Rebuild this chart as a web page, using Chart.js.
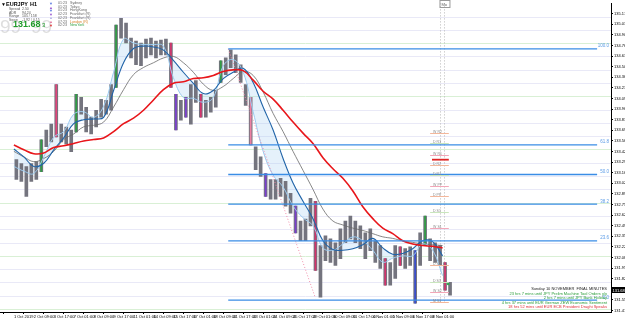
<!DOCTYPE html>
<html>
<head>
<meta charset="utf-8">
<script src="https://cdn.jsdelivr.net/npm/chart.js@4.4.1/dist/chart.umd.min.js"></script>
<style>
  html, body { margin: 0; padding: 0; background: #fff; overflow: hidden; }
  #wrap { width: 625px; height: 319px; }
</style>
</head>
<body>
<div id="wrap"><canvas id="priceChart" width="625" height="319"></canvas></div>
<script>
// --- DATA ---
const symbol = 'EURJPY';
const timeframe = 'H1';
const barsPerChunk = 8;   // one range bar = 8 hourly bars
const maStep = 16;        // moving averages sampled every 16 bars
const lastBar = 936;      // right edge of the window, in bars

const chunkHigh = [
  133.325, 133.275, 133.238, 133.275, 133.300, 133.575, 133.700, 133.775, 134.275, 133.775,
  133.738, 133.700, 134.150, 134.112, 133.988, 133.862, 133.950, 134.088, 134.075, 134.275,
  135.025, 135.112, 135.050, 134.862, 134.825, 134.800, 134.850, 134.862, 134.825, 134.838,
  134.850, 134.800, 134.150, 134.075, 134.112, 134.275, 134.325, 134.150, 134.075, 134.112,
  134.200, 134.575, 134.612, 134.712, 134.650, 134.525, 134.275, 134.112, 133.488, 133.362,
  133.150, 133.075, 133.075, 133.088, 133.050, 132.900, 132.738, 132.550, 132.575, 132.838,
  132.800, 132.238, 132.362, 132.325, 132.275, 132.450, 132.550, 132.612, 132.550, 132.488,
  132.400, 132.450, 132.300, 132.238, 132.075, 132.025, 132.238, 132.225, 132.200, 132.225,
  132.175, 132.400, 132.612, 132.325, 132.275, 132.238, 132.025, 131.775
];
const chunkLow = [
  133.075, 133.050, 132.862, 133.050, 133.075, 133.175, 133.488, 133.550, 133.612, 133.550,
  133.525, 133.425, 133.675, 133.900, 133.675, 133.650, 133.738, 133.862, 133.900, 133.950,
  134.238, 134.862, 134.800, 134.612, 134.525, 134.512, 134.612, 134.650, 134.612, 134.650,
  134.650, 134.238, 133.700, 133.825, 133.862, 133.775, 134.050, 133.862, 133.862, 133.925,
  133.988, 134.300, 134.400, 134.488, 134.425, 134.300, 134.012, 133.512, 133.200, 133.112,
  132.862, 132.825, 132.825, 132.862, 132.738, 132.650, 132.400, 132.300, 132.300, 132.488,
  131.925, 131.588, 132.050, 132.025, 131.988, 132.075, 132.275, 132.325, 132.275, 132.200,
  132.075, 132.175, 132.025, 131.950, 131.738, 131.738, 131.825, 131.988, 131.950, 131.988,
  131.512, 131.988, 132.238, 132.050, 132.025, 131.988, 131.675, 131.612
];

const maRed = [
  133.51, 133.45, 133.40, 133.41, 133.48, 133.50, 133.53, 133.56, 133.58, 133.60,
  133.68, 133.78, 133.85, 133.95, 134.08, 134.21, 134.29, 134.31, 134.35, 134.36,
  134.39, 134.44, 134.46, 134.45, 134.33, 134.19, 134.09, 133.95, 133.80, 133.66,
  133.53, 133.35, 133.21, 133.09, 132.93, 132.73, 132.58, 132.46, 132.39, 132.30,
  132.26, 132.24, 132.23, 132.21
];
const maBlue = [
  133.46, 133.36, 133.24, 133.28, 133.45, 133.60, 133.78, 133.83, 133.84, 133.86,
  134.20, 134.55, 134.73, 134.76, 134.75, 134.71, 134.58, 134.43, 134.29, 134.16,
  134.20, 134.35, 134.43, 134.48, 134.30, 133.99, 133.70, 133.34, 133.03, 132.80,
  132.58, 132.30, 132.19, 132.18, 132.20, 132.25, 132.33, 132.21, 132.13, 132.14,
  132.20, 132.30, 132.29, 132.11
];
const maGrey = [
  133.43, 133.36, 133.30, 133.34, 133.43, 133.58, 133.65, 133.74, 133.76, 133.80,
  133.99, 134.21, 134.40, 134.49, 134.55, 134.61, 134.63, 134.55, 134.43, 134.28,
  134.20, 134.25, 134.35, 134.44, 134.39, 134.18, 133.91, 133.68, 133.43, 133.19,
  132.95, 132.70, 132.55, 132.50, 132.46, 132.43, 132.39, 132.35, 132.33, 132.30,
  132.28, 132.26, 132.25, 132.24
];
const maFast = [
  133.24, 133.18, 133.15, 133.36, 133.61, 133.68, 133.90, 133.93, 133.86, 134.00,
  134.43, 134.85, 134.80, 134.78, 134.78, 134.76, 134.36, 134.11, 134.10, 134.05,
  134.11, 134.51, 134.59, 134.43, 133.93, 133.43, 133.13, 132.98, 132.74, 132.59,
  132.49, 132.21, 132.18, 132.26, 132.35, 132.30, 132.18, 132.03, 132.08, 132.11,
  132.11, 132.26, 132.18, 131.86
];

const dateStep = 32;
const dateLabels = [
  '1 Oct 2019', '2 Oct 09:00', '3 Oct 17:00', '7 Oct 01:00', '8 Oct 09:00', '9 Oct 17:00',
  '11 Oct 01:00', '14 Oct 09:00', '15 Oct 17:00', '17 Oct 01:00', '18 Oct 09:00', '21 Oct 17:00',
  '23 Oct 01:00', '24 Oct 09:00', '25 Oct 17:00', '29 Oct 01:00', '30 Oct 09:00', '31 Oct 17:00',
  '4 Nov 01:00', '5 Nov 09:00', '6 Nov 17:00', '8 Nov 01:00'
];
const priceTicks = [
  135.170, 135.036, 134.902, 134.768, 134.634, 134.500, 134.366, 134.232, 134.098, 133.964,
  133.830, 133.696, 133.562, 133.428, 133.294, 133.160, 133.026, 132.892, 132.758, 132.624,
  132.490, 132.356, 132.222, 132.088, 131.954, 131.820, 131.686, 131.552, 131.418
];

// fibonacci retracement from swing high to swing low
const fibHighBar = 344, fibHigh = 134.725;
const fibLowBar = 484, fibLow = 131.55, zigzagLow = 131.575;
const fibLevels = [0, 23.6, 38.2, 50, 61.8, 100];

// small pivot markers near the last bars
const pivotLevels = [133.66, 133.53, 133.39, 133.26, 133.13, 132.99, 132.86, 132.66, 132.46, 131.99, 131.78, 131.65, 131.53];
const pivotNames = ['W R2', 'D R3', 'W R1', 'D R2', 'D R1', 'W PP', 'D PP', 'D S1', 'W S1', 'D S2', 'D S3', 'W S2', 'M S1'];
const dailyOpen = 133.325;
const sessionBars = [684, 690];
const bidPrice = 131.683;

const sessions = [
  ['01:23', 'Sydney'], ['01:23', 'Tokyo'], ['01:23', 'HongKong'], ['02:23', 'Frankfurt (R)'],
  ['02:23', 'Frankfurt (R)'], ['07:23', 'London (R)'], ['02:23', 'NewYork']
];
const newsLines = [
  'Sunday 10 NOVEMBER  FINAL MINUTES',
  '23 hrs 7 mins until JPY Prelim Machine Tool Orders y/y',
  '2 hrs 7 mins until JPY Bank Holiday',
  '4 hrs 37 mins until EUR German ZEW Economic Sentiment',
  '18 hrs 52 mins until EUR ECB President Draghi Speaks'
];

// --- BUILD ---
const FONT = '"Liberation Sans", Arial, sans-serif';
// a few candles MT4 paints in colour
const highlight = {
  5: '#2f9e44', 8: '#e2457a', 12: '#2f9e44', 20: '#2f9e44', 31: '#d6336c', 32: '#7b3fd0',
  34: '#7b3fd0', 37: '#d6336c', 41: '#2f9e44', 47: '#ee7fa2', 50: '#7b3fd0', 56: '#7b3fd0',
  60: '#d6336c', 74: '#d6336c', 77: '#d6336c', 80: '#3b4fd0', 82: '#2f9e44', 86: '#d6336c'
};

const candleData = chunkHigh.map((h, i) => ({ x: i * barsPerChunk + barsPerChunk / 2, y: [chunkLow[i], h] }));
const colourData = candleData.filter((d, i) => highlight[i]);
const colourCols = candleData.map((d, i) => highlight[i]).filter(c => c);
const maPoints = arr => arr.map((v, j) => ({ x: j * maStep, y: v }));

const fibDatasets = fibLevels.map(l => ({
    type: 'line',
    data: [
        { x: fibHighBar, y: fibLow + (fibHigh - fibLow) * l / 100 },
        { x: lastBar, y: fibLow + (fibHigh - fibLow) * l / 100 }
    ],
    borderColor: '#3a8de6',
    borderWidth: 1.4,
    pointRadius: 0,
    order: 0
}));

function txt(ctx, s, x, y, color, font, align) {
    ctx.font = font;
    ctx.fillStyle = color;
    ctx.textAlign = align || 'left';
    ctx.textBaseline = 'alphabetic';
    ctx.fillText(s, x, y);
}

const deco = {
    id: 'deco',
    beforeDraw(chart) {
        const { ctx, chartArea: a, scales: { x, y } } = chart;
        ctx.save();
        // faint horizontal price grid
        ctx.lineWidth = 1;
        for (let n = 0; n < 24; n++) {
            const py = Math.round(y.getPixelForValue(135.134 - 0.168 * n)) + 0.5;
            if (py > a.bottom) break;
            ctx.strokeStyle = n % 4 === 2 ? '#d9f0d5' : '#e9e9f7';
            ctx.beginPath(); ctx.moveTo(a.left, py); ctx.lineTo(a.right, py); ctx.stroke();
        }
        // session separators
        ctx.setLineDash([1, 2]);
        ctx.strokeStyle = '#b8b8b8';
        sessionBars.forEach(b => {
            const px = Math.round(x.getPixelForValue(b)) + 0.5;
            ctx.beginPath(); ctx.moveTo(px, a.top); ctx.lineTo(px, a.bottom - 10); ctx.stroke();
        });
        ctx.restore();
    },
    afterDatasetsDraw(chart) {
        const { ctx, chartArea: a, scales: { x, y } } = chart;
        ctx.save();

        // pivot markers
        const x0 = x.getPixelForValue(668), x1 = x.getPixelForValue(698);
        const pivCols = ['#f3b79b', '#c9e6bd', '#f2a7b8'];
        pivotLevels.forEach((p, i) => {
            const py = Math.round(y.getPixelForValue(p)) + 0.5;
            ctx.strokeStyle = pivCols[i % 3];
            ctx.lineWidth = 1;
            ctx.beginPath(); ctx.moveTo(x0, py); ctx.lineTo(x1, py); ctx.stroke();
            txt(ctx, pivotNames[i], x0 + 3, py - 1, '#8a8a8a', '3.5px ' + FONT);
        });
        const dy = y.getPixelForValue(dailyOpen);
        ctx.strokeStyle = '#e02424'; ctx.lineWidth = 1.8;
        ctx.beginPath(); ctx.moveTo(x.getPixelForValue(671), dy); ctx.lineTo(x1, dy); ctx.stroke();

        // fib labels
        fibLevels.forEach(l => {
            const py = y.getPixelForValue(fibLow + (fibHigh - fibLow) * l / 100);
            txt(ctx, l.toFixed(1), a.right - 2, py - 1.5, '#5b9be6', '4.5px ' + FONT, 'right');
        });

        // last price marker
        const lx = x.getPixelForValue(697), ly = y.getPixelForValue(bidPrice + 0.07);
        ctx.fillStyle = '#2fa84f';
        ctx.beginPath(); ctx.arc(lx, ly, 1.3, 0, Math.PI * 2); ctx.fill();

        // session box at top
        const bx = x.getPixelForValue(683);
        ctx.strokeStyle = '#9a9a9a'; ctx.lineWidth = 1;
        ctx.strokeRect(bx + 0.5, 0.5, 10, 7);
        txt(ctx, 'Mo', bx + 2, 6, '#666', '4px ' + FONT);

        // news ticker (bottom right)
        const newsCols = ['#222', '#2a9d3a', '#2a9d3a', '#2a9d3a', '#e0303a'];
        const newsY = [290, 294.5, 299, 303.5, 308];
        newsLines.forEach((s, i) => txt(ctx, s, a.right - 4, newsY[i], newsCols[i], '4px ' + FONT, 'right'));

        // info panel (top left)
        txt(ctx, '\u25BC', 1, 6, '#000', '5px ' + FONT);
        txt(ctx, symbol, 6, 6, '#000', 'bold 5.5px ' + FONT);
        txt(ctx, timeframe, 30, 6, '#000', 'bold 5.5px ' + FONT);
        const info = [['Spread', '2.50'], ['ADR', '94.24'], ['Range', '105 / 158'], ['Swap', '-1.92 / 0.15']];
        info.forEach((r, i) => {
            txt(ctx, r[0], 9, 10 + i * 3.7, '#555', '3.5px ' + FONT);
            txt(ctx, r[1], 22, 10 + i * 3.7, '#555', '3.5px ' + FONT);
        });
        txt(ctx, '99', 0, 33, 'rgba(200,200,200,0.6)', '19px ' + FONT);
        txt(ctx, '99', 31, 33, 'rgba(200,200,200,0.6)', '19px ' + FONT);
        txt(ctx, bidPrice.toFixed(2), 13, 27, '#1f9b2a', 'bold 9px ' + FONT);
        txt(ctx, '3', 42, 27, '#1f9b2a', '6px ' + FONT);

        const glyphCols = ['#5b7be0', '#9b59d0', '#5b7be0', '#9b59d0', '#b4b4e6', '#e07aa0', '#e03030'];
        const glyphs = ['\u25BC', '\u25B2', '\u25BC', '\u25BC', '\u25B2', '\u25B2', '\u25BC'];
        glyphs.forEach((g, i) => txt(ctx, g, 49, 5 + i * 3.6, glyphCols[i], '4px ' + FONT));

        const sessCols = ['#666', '#666', '#666', '#666', '#666', '#d9822b', '#2a9d3a'];
        sessions.forEach((s, i) => {
            txt(ctx, s[0], 58, 4 + i * 3.7, '#666', '3.6px ' + FONT);
            txt(ctx, s[1], 70, 4 + i * 3.7, sessCols[i], '3.6px ' + FONT);
        });

        ctx.restore();
    },
    afterDraw(chart) {
        const { ctx, chartArea: a, scales: { y } } = chart;
        // bid label on the price scale
        const py = Math.round(y.getPixelForValue(bidPrice));
        ctx.save();
        ctx.fillStyle = '#000';
        ctx.fillRect(a.right, py - 3, 625 - a.right, 6);
        txt(ctx, bidPrice.toFixed(3), a.right + 1.5, py + 1.8, '#fff', '4px ' + FONT);
        ctx.restore();
    }
};

new Chart(document.getElementById('priceChart'), {
    type: 'bar',
    data: {
        datasets: [
            { type: 'line', data: maPoints(maRed), borderColor: '#e8161b', borderWidth: 1.6, pointRadius: 0, tension: 0.4, order: 1 },
            { type: 'line', data: maPoints(maBlue), borderColor: '#2164a8', borderWidth: 1.1, pointRadius: 0, tension: 0.4, order: 3 },
            {
                type: 'line', data: maPoints(maFast), borderColor: '#9ccbf0', borderWidth: 1, pointRadius: 0, tension: 0.4, order: 4,
                fill: { target: 1 }, backgroundColor: 'rgba(170,210,242,0.3)'
            },
            { type: 'line', data: maPoints(maGrey), borderColor: '#6a6a6a', borderWidth: 0.8, pointRadius: 0, tension: 0.4, order: 5 },
            { type: 'bar', data: candleData, order: 9, barThickness: 3, grouped: false, backgroundColor: '#74747e' },
            { type: 'bar', data: colourData, order: 8, barThickness: 1, grouped: false, backgroundColor: colourCols },
            {
                type: 'line', data: [{ x: fibHighBar, y: fibHigh }, { x: fibLowBar, y: zigzagLow }],
                borderColor: '#f08ca8', borderWidth: 1, borderDash: [1, 2], pointRadius: 0, order: 2
            },
            ...fibDatasets
        ]
    },
    options: {
        responsive: false,
        animation: false,
        devicePixelRatio: 1,
        layout: { padding: 0 },
        plugins: {
            legend: { display: false },
            tooltip: { enabled: false },
            filler: { drawTime: 'beforeDatasetsDraw' }
        },
        scales: {
            x: {
                type: 'linear',
                min: 0,
                max: lastBar,
                afterBuildTicks: s => { s.ticks = dateLabels.map((_, i) => ({ value: i * dateStep })); },
                afterFit: s => { s.height = 7; },
                ticks: {
                    autoSkip: false,
                    maxRotation: 0,
                    align: 'start',
                    padding: 0,
                    color: '#000',
                    font: { size: 4, family: FONT },
                    callback: v => dateLabels[Math.round(v / dateStep)]
                },
                grid: { drawOnChartArea: false, tickLength: 2, color: '#000' },
                border: { color: '#000' }
            },
            y: {
                position: 'right',
                min: 131.40,
                max: 135.30,
                afterBuildTicks: s => { s.ticks = priceTicks.map(v => ({ value: v })); },
                afterFit: s => { s.width = 14; },
                ticks: {
                    padding: 1,
                    color: '#000',
                    font: { size: 4, family: FONT },
                    callback: v => v.toFixed(3)
                },
                grid: { drawOnChartArea: false, tickLength: 2, color: '#000' },
                border: { color: '#000' }
            }
        }
    },
    plugins: [deco]
});
</script>
</body>
</html>
